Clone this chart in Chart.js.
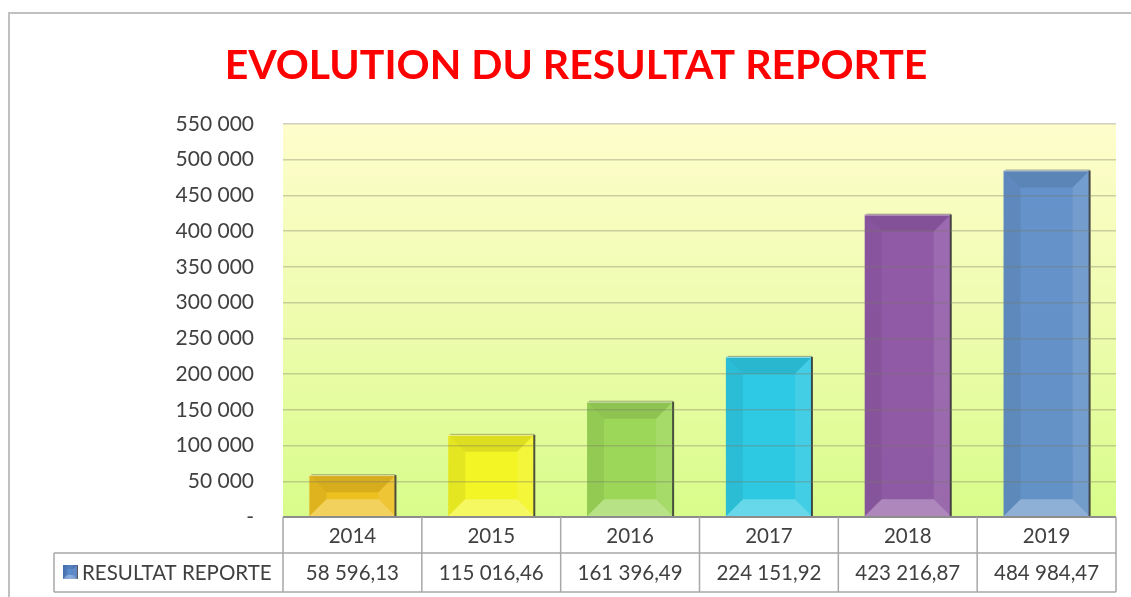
<!DOCTYPE html>
<html>
<head>
<meta charset="utf-8">
<script src="https://cdn.jsdelivr.net/npm/chart.js@4"></script>
<style>
html,body{margin:0;padding:0;background:#fff;}
#wrap{position:relative;width:1131px;height:597px;}
</style>
</head>
<body>
<div id="wrap"><canvas id="c" width="1131" height="597"></canvas></div>
<script>
const TITLE = "EVOLUTION DU RESULTAT REPORTE";
const SERIES_NAME = "RESULTAT REPORTE";
const categories = ["2014", "2015", "2016", "2017", "2018", "2019"];
const values = [58596.13, 115016.46, 161396.49, 224151.92, 423216.87, 484984.47];
const barColors = ["#eebb18", "#f4f41e", "#98d455", "#22c6e8", "#8a50a6", "#5b8bca"];
const yMin = 0, yMax = 550000, yStep = 50000;

const FONT = "Lato, 'Open Sans', sans-serif";
const TXT = "#404040";

function fmtThousands(n) {
  return String(n).replace(/\B(?=(\d{3})+(?!\d))/g, " ");
}
function fmtValue(v) {
  const parts = v.toFixed(2).split(".");
  return fmtThousands(parts[0]) + "," + parts[1];
}

const framePlugin = {
  id: "frame",
  beforeDraw(chart) {
    const ctx = chart.ctx, a = chart.chartArea;
    ctx.save();
    ctx.fillStyle = "#ffffff";
    ctx.fillRect(0, 0, chart.width, chart.height);
    ctx.strokeStyle = "#c0c0c0";
    ctx.lineWidth = 2;
    ctx.strokeRect(9, 13, chart.width + 20, chart.height + 20);
    const g = ctx.createLinearGradient(0, a.top, 0, a.bottom);
    g.addColorStop(0, "#fefdcc");
    g.addColorStop(0.5, "#eefcae");
    g.addColorStop(1, "#d8fc8a");
    ctx.fillStyle = g;
    ctx.fillRect(a.left, a.top, a.right - a.left, a.bottom - a.top);
    // title
    ctx.fillStyle = "#ff0000";
    ctx.font = "bold 41px " + FONT;
    ctx.textAlign = "center";
    ctx.textBaseline = "alphabetic";
    ctx.fillText(TITLE, 576, 79);
    ctx.restore();
  }
};

function bevelRect(ctx, x0, y0, x1, y1, b) {
  const w = x1 - x0, h = y1 - y0;
  const bb = Math.min(b, w / 2, h / 2);
  ctx.fillStyle = "rgba(0,0,0,0.09)";
  ctx.beginPath(); ctx.moveTo(x0, y0); ctx.lineTo(x1, y0); ctx.lineTo(x1 - bb, y0 + bb); ctx.lineTo(x0 + bb, y0 + bb); ctx.closePath(); ctx.fill();
  ctx.fillStyle = "rgba(0,0,0,0.06)";
  ctx.beginPath(); ctx.moveTo(x0, y0); ctx.lineTo(x0 + bb, y0 + bb); ctx.lineTo(x0 + bb, y1 - bb); ctx.lineTo(x0, y1); ctx.closePath(); ctx.fill();
  ctx.fillStyle = "rgba(255,255,255,0.28)";
  ctx.beginPath(); ctx.moveTo(x0, y1); ctx.lineTo(x0 + bb, y1 - bb); ctx.lineTo(x1 - bb, y1 - bb); ctx.lineTo(x1, y1); ctx.closePath(); ctx.fill();
  ctx.fillStyle = "rgba(255,255,255,0.10)";
  ctx.beginPath(); ctx.moveTo(x1, y0); ctx.lineTo(x1, y1); ctx.lineTo(x1 - bb, y1 - bb); ctx.lineTo(x1 - bb, y0 + bb); ctx.closePath(); ctx.fill();
}

const bevelPlugin = {
  id: "bevel",
  afterDatasetsDraw(chart) {
    const ctx = chart.ctx;
    const meta = chart.getDatasetMeta(0);
    ctx.save();
    meta.data.forEach((bar) => {
      const p = bar.getProps(["x", "y", "base", "width"], true);
      const x0 = p.x - p.width / 2, x1 = p.x + p.width / 2;
      const y0 = Math.min(p.y, p.base), y1 = Math.max(p.y, p.base);
      bevelRect(ctx, x0, y0, x1, y1, 17);
      ctx.strokeStyle = "rgba(255,255,255,0.55)";
      ctx.lineWidth = 1;
      ctx.beginPath(); ctx.moveTo(x0, y0 + 0.5); ctx.lineTo(x1, y0 + 0.5); ctx.stroke();
      ctx.strokeStyle = "rgba(50,50,50,0.85)";
      ctx.lineWidth = 2;
      ctx.beginPath(); ctx.moveTo(x1, y0); ctx.lineTo(x1, y1); ctx.stroke();
      ctx.strokeStyle = "rgba(50,50,50,0.35)";
      ctx.lineWidth = 1;
      ctx.beginPath(); ctx.moveTo(x0 + 2, y0 - 0.5); ctx.lineTo(x1, y0 - 0.5); ctx.stroke();
    });
    ctx.restore();
  }
};

const tablePlugin = {
  id: "table",
  afterDraw(chart) {
    const ctx = chart.ctx, a = chart.chartArea;
    const n = categories.length;
    const colW = (a.right - a.left) / n;
    const r0 = a.bottom, r1 = 553, r2 = 592, legL = 54;
    ctx.save();
    ctx.strokeStyle = "#8c8c8c";
    ctx.lineWidth = 2;
    ctx.beginPath(); ctx.moveTo(a.left, r0); ctx.lineTo(a.right, r0); ctx.stroke();
    ctx.strokeStyle = "#a8a8a8";
    ctx.lineWidth = 1.5;
    ctx.beginPath();
    ctx.moveTo(legL, r1); ctx.lineTo(a.right, r1);
    ctx.moveTo(legL, r2); ctx.lineTo(a.right, r2);
    ctx.moveTo(legL, r1); ctx.lineTo(legL, r2);
    for (let i = 0; i <= n; i++) {
      const x = a.left + i * colW;
      ctx.moveTo(x, r0); ctx.lineTo(x, r2);
    }
    ctx.stroke();
    ctx.fillStyle = TXT;
    ctx.font = "20.5px " + FONT;
    ctx.textAlign = "center";
    ctx.textBaseline = "middle";
    const xs = chart.scales.x;
    categories.forEach((c, i) => {
      const cx = xs.getPixelForValue(i);
      ctx.fillText(c, cx, (r0 + r1) / 2 + 1);
      ctx.fillText(fmtValue(values[i]), cx, (r1 + r2) / 2 + 1);
    });
    const kx = 63, ky = 565, ks = 14;
    const kg = ctx.createLinearGradient(kx, 0, kx + ks, 0);
    kg.addColorStop(0, "#4a74b8"); kg.addColorStop(0.5, "#5f8fd0"); kg.addColorStop(1, "#4a74b8");
    ctx.fillStyle = kg;
    ctx.fillRect(kx, ky, ks, ks);
    bevelRect(ctx, kx, ky, kx + ks, ky + ks, 4);
    ctx.strokeStyle = "rgba(50,50,50,0.8)";
    ctx.lineWidth = 1;
    ctx.beginPath(); ctx.moveTo(kx + ks + 0.5, ky); ctx.lineTo(kx + ks + 0.5, ky + ks); ctx.stroke();
    ctx.fillStyle = TXT;
    ctx.textAlign = "left";
    ctx.fillText(SERIES_NAME, 82, (r1 + r2) / 2 + 1);
    ctx.restore();
  }
};

function withAlpha(hex, a) {
  const r = parseInt(hex.slice(1, 3), 16), g = parseInt(hex.slice(3, 5), 16), b = parseInt(hex.slice(5, 7), 16);
  return `rgba(${r},${g},${b},${a})`;
}

new Chart(document.getElementById("c"), {
  type: "bar",
  data: {
    labels: categories,
    datasets: [{
      label: SERIES_NAME,
      data: values,
      backgroundColor: barColors.map(c => withAlpha(c, 0.94)),
      borderWidth: 0,
      categoryPercentage: 1.0,
      barPercentage: 0.62
    }]
  },
  options: {
    responsive: false,
    animation: false,
    devicePixelRatio: 1,
    layout: { padding: { left: 0, top: 124, right: 15, bottom: 80 } },
    plugins: {
      legend: { display: false },
      title: { display: false },
      tooltip: { enabled: false }
    },
    scales: {
      x: { display: false },
      y: {
        min: yMin, max: yMax,
        afterFit(scale) { scale.width = 283; },
        ticks: {
          stepSize: yStep,
          padding: 29,
          color: TXT,
          font: { family: FONT, size: 21 },
          callback: (v) => v === 0 ? "-" : fmtThousands(v)
        },
        grid: { drawTicks: false, color: "rgba(120,120,100,0.35)", lineWidth: 1.5, z: 1 },
        border: { display: false }
      }
    }
  },
  plugins: [framePlugin, bevelPlugin, tablePlugin]
});
</script>
</body>
</html>
